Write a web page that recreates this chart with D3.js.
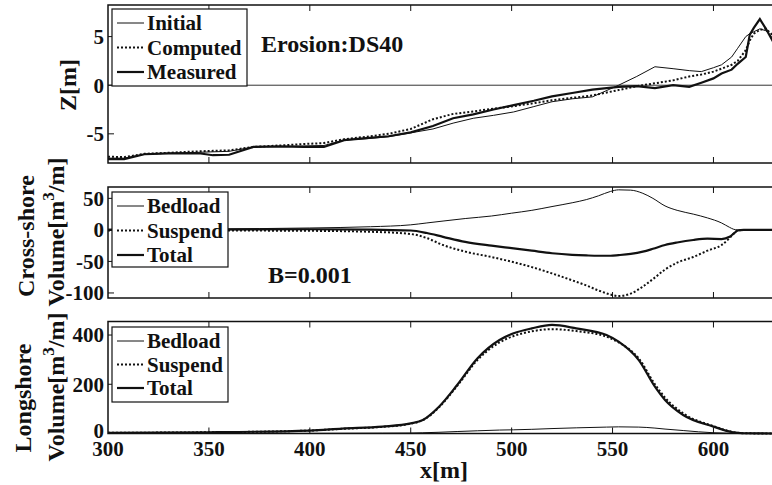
<!DOCTYPE html>
<html>
<head>
<meta charset="utf-8">
<title></title>
<script src="https://cdn.jsdelivr.net/npm/d3@7/dist/d3.min.js"></script>
<style>
  body { margin: 0; background: #fff; }
  svg text { font-family: "Liberation Serif", "Times New Roman", serif; font-weight: bold; fill: #111; }
</style>
</head>
<body>

<div id="chart"></div>

<script>

  // ---- data ----
  var xTicks = [300, 350, 400, 450, 500, 550, 600];

  // profile panel
  var zX = [300, 308, 318, 330, 345, 352, 360, 372, 385, 397, 407, 417, 428, 439, 450, 461, 471, 481, 491, 501,
            511, 520, 530, 540, 553, 562, 571, 580, 588, 594, 600, 604, 609, 612, 616, 618, 620, 623, 626, 630];
  var zInitial = [-7.5, -7.5, -7.1, -7.0, -6.9, -6.85, -6.8, -6.35, -6.3, -6.25, -6.2, -5.65, -5.5, -5.3, -4.9, -4.5, -3.9, -3.4, -3.1, -2.75,
                  -2.2, -1.7, -1.4, -1.2, 0.0, 0.9, 1.9, 1.7, 1.5, 1.4, 1.8, 2.1, 2.9, 3.8, 5.0, 5.3, 5.5, 5.8, 5.6, 4.7];
  var zComputed = [-7.35, -7.4, -7.05, -6.95, -6.8, -6.75, -6.7, -6.35, -6.2, -6.05, -5.95, -5.55, -5.3, -5.0, -4.5, -3.5, -2.95, -2.7, -2.4, -2.15,
                   -1.85, -1.55, -1.3, -1.05, -0.5, -0.1, 0.2, 0.5, 0.9, 1.1, 1.4, 1.7, 2.1, 2.5, 3.6, 4.6, 5.3, 5.7, 5.8, 5.0];
  var zMeasured = [-7.6, -7.6, -7.1, -7.0, -7.0, -7.2, -7.15, -6.35, -6.3, -6.35, -6.35, -5.65, -5.45, -5.25, -4.85, -4.2, -3.4, -3.0, -2.5, -2.05,
                   -1.6, -1.15, -0.8, -0.45, -0.17, -0.1, -0.3, 0.0, -0.17, 0.25, 0.7, 1.2, 1.6, 2.2, 2.9, 5.2, 5.9, 6.8, 5.8, 4.3];
  var zTicks = [-5, 0, 5];

  // cross-shore panel
  var cX = [300, 350, 400, 430, 450, 458, 466, 477, 490, 500, 510, 520, 530, 537, 543, 549, 553, 559, 565, 570,
            576, 582, 590, 597, 604, 608, 610, 612, 615, 620, 630];
  var cBedload = [1, 1.5, 3, 5, 8, 11, 14, 18, 22, 26.5, 31, 37, 43, 48, 54, 61, 63.5, 63, 58, 50,
                  38, 31, 25, 19, 11, 4, 1, 0, 0, 0, 0];
  var cSuspend = [-1, -1, -1.5, -3, -6.5, -13, -24, -34.5, -43, -50.5, -59, -69, -80, -88, -96, -102.5, -105, -101, -90, -78,
                  -63, -52, -43, -33, -24, -13, -6, -1, 0, 0, 0];
  var cTotal = [0, 0.5, 1, 0.5, -1, -5, -11, -19, -25, -29, -33, -37, -39.5, -40.5, -41, -41, -40, -38, -34.5, -30,
                -24, -20, -16, -14, -14.5, -11, -6, -1, 0, 0, 0];
  var cTicks = [-100, -50, 0, 50];

  // longshore panel
  var lX = [300, 350, 400, 416, 436, 450, 456, 464, 473, 483, 494, 501, 510, 520, 532, 547, 553, 563, 571, 576,
            585, 600, 609, 615, 630];
  var lBedload = [0, 0, 0.5, 1, 1.5, 2, 3, 5, 8, 11, 14, 15, 17, 20, 23, 26, 27, 26, 22, 18,
                  12, 3, 1, 0, 0];
  var lSuspend = [3, 5, 12, 19, 27, 40, 54, 106, 193, 298, 370, 396, 415, 424, 416, 393, 370, 305, 200, 146,
                  82, 30, 7, 1, 0];
  var lTotal = [3, 5, 12, 20, 28, 41, 55, 109, 197, 305, 380, 407, 427, 441, 427, 400, 373, 298, 190, 136,
                75, 28, 6, 1, 0];
  var lTicks = [0, 200, 400];

  var w = 772,
      h = 485;

  var svg = d3.select('#chart').append('svg')
      .attr('width', w)
      .attr('height', h);

  var x = d3.scaleLinear().domain([300, 630]).range([108, 774]);

  var styles = {
    thin:   {width: 1,   dash: null},
    dotted: {width: 2,   dash: '2,2'},
    thick:  {width: 2.2, dash: null}
  };

  function panel(top, bottom, yDomain, yTicks, xs, series, legend, curve) {
    var y = d3.scaleLinear().domain(yDomain).range([bottom, top]);
    var g = svg.append('g');

    // lines
    series.forEach(function(s) {
      var pts = xs.map(function(d, i) { return [d, s.values[i]]; });
      g.append('path')
          .datum(pts)
          .attr('d', d3.line()
              .x(function(d) { return x(d[0]); })
              .y(function(d) { return y(d[1]); })
              .curve(curve))
          .attr('fill', 'none')
          .attr('stroke', '#111')
          .attr('stroke-width', styles[s.style].width)
          .attr('stroke-dasharray', styles[s.style].dash);
    });

    // frame
    g.append('rect')
        .attr('x', x(300)).attr('y', top)
        .attr('width', x(630) - x(300)).attr('height', bottom - top)
        .attr('fill', 'none').attr('stroke', '#111').attr('stroke-width', 1.5);

    // inward ticks
    g.selectAll('line.xt').data(xTicks.slice(1)).enter().append('line')
        .attr('x1', function(d) { return x(d); }).attr('x2', function(d) { return x(d); })
        .attr('y1', bottom).attr('y2', bottom - 6)
        .attr('stroke', '#111').attr('stroke-width', 1);
    g.selectAll('line.xt2').data(xTicks.slice(1)).enter().append('line')
        .attr('x1', function(d) { return x(d); }).attr('x2', function(d) { return x(d); })
        .attr('y1', top).attr('y2', top + 6)
        .attr('stroke', '#111').attr('stroke-width', 1);
    g.selectAll('line.yt').data(yTicks).enter().append('line')
        .attr('x1', x(300)).attr('x2', x(300) + 6)
        .attr('y1', function(d) { return y(d); }).attr('y2', function(d) { return y(d); })
        .attr('stroke', '#111').attr('stroke-width', 1);

    g.selectAll('text.yl').data(yTicks).enter().append('text')
        .attr('x', 104)
        .attr('y', function(d) { return y(d); })
        .attr('dy', '0.35em')
        .attr('text-anchor', 'end')
        .style('font-size', '21px')
        .text(function(d) { return d; });

    // legend
    var lg = g.append('g');
    lg.append('rect')
        .attr('x', legend.x).attr('y', legend.y)
        .attr('width', legend.w).attr('height', legend.h)
        .attr('fill', '#fff').attr('stroke', '#111').attr('stroke-width', 1.2);
    series.forEach(function(s, i) {
      var ry = legend.y + 14 + i * legend.step;
      lg.append('line')
          .attr('x1', legend.x + 5).attr('x2', legend.x + 32)
          .attr('y1', ry).attr('y2', ry)
          .attr('stroke', '#111')
          .attr('stroke-width', styles[s.style].width)
          .attr('stroke-dasharray', styles[s.style].dash);
      lg.append('text')
          .attr('x', legend.x + 35).attr('y', ry)
          .attr('dy', '0.35em')
          .style('font-size', '21px')
          .text(s.name);
    });
    return {g: g, y: y};
  }

  // top: bed profile
  var p1 = panel(5, 163, [-8, 8.25], zTicks, zX, [
    {name: 'Initial', values: zInitial, style: 'thin'},
    {name: 'Computed', values: zComputed, style: 'dotted'},
    {name: 'Measured', values: zMeasured, style: 'thick'}
  ], {x: 112, y: 9, w: 135, h: 77, step: 24.5}, d3.curveLinear);

  // zero line behind legend
  p1.g.insert('line', ':first-child')
      .attr('x1', x(300)).attr('x2', x(630))
      .attr('y1', p1.y(0)).attr('y2', p1.y(0))
      .attr('stroke', '#333').attr('stroke-width', 1);

  svg.append('text')
      .attr('x', 261).attr('y', 52)
      .style('font-size', '24px')
      .text('Erosion:DS40');

  // middle: cross-shore
  panel(187, 298, [-108, 68], cTicks, cX, [
    {name: 'Bedload', values: cBedload, style: 'thin'},
    {name: 'Suspend', values: cSuspend, style: 'dotted'},
    {name: 'Total', values: cTotal, style: 'thick'}
  ], {x: 112, y: 192, w: 116, h: 75, step: 24.5}, d3.curveMonotoneX);

  svg.append('text')
      .attr('x', 268).attr('y', 283)
      .style('font-size', '24px')
      .text('B=0.001');

  // bottom: longshore
  var p3 = panel(321.5, 433.5, [0, 455], lTicks, lX, [
    {name: 'Bedload', values: lBedload, style: 'thin'},
    {name: 'Suspend', values: lSuspend, style: 'dotted'},
    {name: 'Total', values: lTotal, style: 'thick'}
  ], {x: 112, y: 327, w: 116, h: 75, step: 23.5}, d3.curveMonotoneX);

  // the "0" label sits tight above the x tick labels
  p3.g.selectAll('text').filter(function(d) { return d === 0; })
      .attr('dy', '0.2em');

  // x tick labels
  svg.selectAll('text.xl').data(xTicks).enter().append('text')
      .attr('x', function(d) { return x(d); })
      .attr('y', 456)
      .attr('text-anchor', 'middle')
      .style('font-size', '21px')
      .text(function(d) { return d; });

  svg.append('text')
      .attr('x', 444).attr('y', 478)
      .attr('text-anchor', 'middle')
      .style('font-size', '24px')
      .text('x[m]');

  // y labels
  function ylabel(cx, cy, parts) {
    var t = svg.append('text')
        .attr('transform', 'translate(' + cx + ',' + cy + ') rotate(-90)')
        .attr('text-anchor', 'middle')
        .attr('dy', '0.35em')
        .style('font-size', '24px');
    parts.forEach(function(p) {
      var s = t.append('tspan').text(p.t);
      if (p.sup) s.attr('dy', -10).style('font-size', '17px');
      if (p.after) s.attr('dy', 10);
    });
  }

  ylabel(68, 85, [{t: 'Z[m]'}]);
  ylabel(26, 236, [{t: 'Cross-shore'}]);
  ylabel(56, 232, [{t: 'Volume[m'}, {t: '3', sup: true}, {t: '/m]', after: true}]);
  ylabel(23, 398, [{t: 'Longshore'}]);
  ylabel(56, 387, [{t: 'Volume[m'}, {t: '3', sup: true}, {t: '/m]', after: true}]);

</script>

</body>
</html>
